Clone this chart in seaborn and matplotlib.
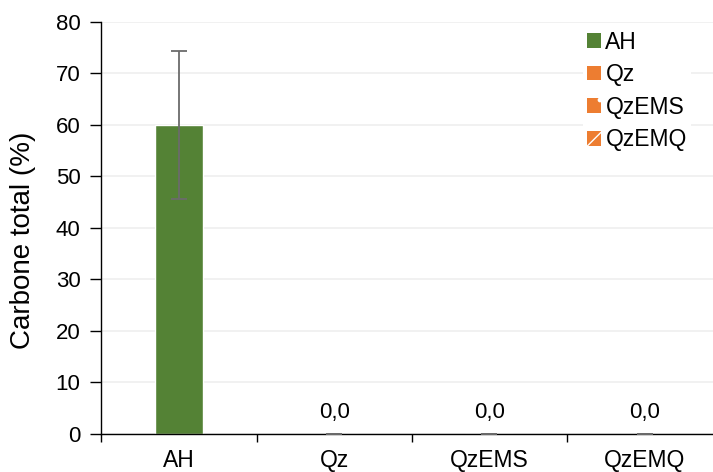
import matplotlib
matplotlib.use("Agg")
import matplotlib.pyplot as plt
from matplotlib.patches import Patch
import seaborn as sns
import pandas as pd

# data
samples = ["AH", "Qz", "QzEMS", "QzEMQ"]
carbon = [60.0, 0.0, 0.0, 0.0]
carbon_sd = [14.3, 0.0, 0.0, 0.0]
colors = ["#548235", "#ED7D31", "#ED7D31", "#ED7D31"]
hatches = ["", "", ".", "//"]
yticks = [0, 10, 20, 30, 40, 50, 60, 70, 80]

df = pd.DataFrame({"sample": samples, "carbon": carbon, "sd": carbon_sd})

sns.set_style("white")
plt.rcParams["font.family"] = ["Liberation Sans", "DejaVu Sans"]
plt.rcParams["font.size"] = 16.5
plt.rcParams["hatch.color"] = "white"
plt.rcParams["text.color"] = "black"
plt.rcParams["axes.labelcolor"] = "black"
plt.rcParams["xtick.color"] = "black"
plt.rcParams["ytick.color"] = "black"

fig = plt.figure(figsize=(7.13, 4.72), dpi=100)
ax = fig.add_axes([0.142, 0.0805, 0.858, 0.873])

sns.barplot(data=df, x="sample", y="carbon", hue="sample",
            palette=colors, saturation=1, width=0.31, legend=False,
            ax=ax, zorder=2)

ax.errorbar(range(len(samples)), df["carbon"], yerr=df["sd"],
            fmt="none", ecolor="#6b6b6b", elinewidth=1.3, capsize=6,
            capthick=1.3, zorder=3)

# zero labels
for i, v in enumerate(carbon):
    if v == 0:
        ax.annotate(f"{v:.1f}".replace(".", ","), (i, v), xytext=(0, 8),
                    textcoords="offset points", ha="center", va="bottom",
                    fontsize=16, color="#000000")

ax.set_ylim(0, 80)
ax.set_yticks(yticks)
ax.set_xlim(-0.5, 3.44)
ax.set_xlabel("")
ax.set_ylabel("Carbone total (%)", fontsize=20)
ax.yaxis.set_label_coords(-0.106, 0.47)
ax.yaxis.grid(True, color="#EFEFEF", linewidth=1.2, zorder=0)
ax.set_axisbelow(True)

for side in ["top", "right"]:
    ax.spines[side].set_visible(False)
for side in ["left", "bottom"]:
    ax.spines[side].set_color("black")
    ax.spines[side].set_linewidth(1.0)

ax.tick_params(axis="y", direction="out", length=8, width=1, left=True,
               labelsize=16, pad=7)
ax.tick_params(axis="x", which="major", length=0, labelsize=16.5, pad=11)
ax.set_xticks([-0.5, 0.5, 1.5, 2.5], minor=True)
ax.tick_params(axis="x", which="minor", direction="out", length=6, width=1,
               bottom=True)

handles = [Patch(facecolor=c, edgecolor="white", hatch=h, linewidth=0)
           for c, h in zip(colors, hatches)]
leg = ax.legend(handles, samples, loc="upper left",
                bbox_to_anchor=(0.768, 1.018), frameon=True, fancybox=False,
                edgecolor="none", facecolor="white", framealpha=1,
                handlelength=0.6, handleheight=0.6, handletextpad=0.2,
                labelspacing=0.42, fontsize=16.5, borderpad=0.2)

fig.savefig("out.png", dpi=100)
